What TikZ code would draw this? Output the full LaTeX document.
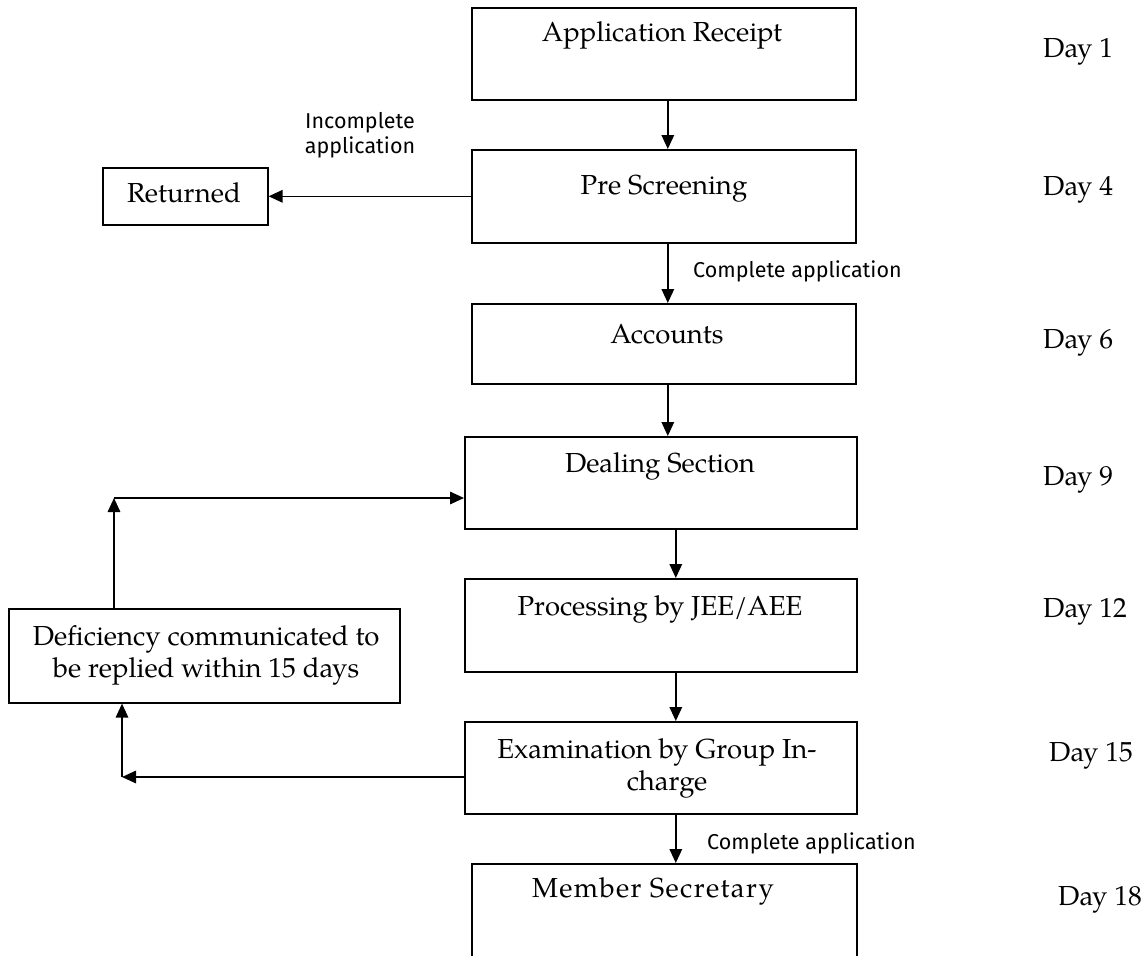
\documentclass[tikz,border=0pt]{standalone}
\usepackage{fontspec}
\setmainfont{TeX Gyre Pagella}
\newfontfamily\notefont{Fira Sans}
\newfontfamily\widefont[LetterSpace=5]{TeX Gyre Pagella}
\usetikzlibrary{arrows.meta}

\begin{document}
\begin{tikzpicture}[x=1pt,y=-1pt,
  box/.style={draw, line width=1.6pt, anchor=north west, inner sep=0pt},
  txt/.style={anchor=base, inner sep=0pt, font=\fontsize{27.5}{32}\selectfont},
  day/.style={anchor=base west, inner sep=0pt, font=\fontsize{27.5}{32}\selectfont},
  note/.style={inner sep=0pt, font=\notefont\fontsize{21.5}{27}\selectfont},
  flow/.style={line width=1.6pt, -{Triangle[length=14pt,width=12.5pt]}}
]
\useasboundingbox (0,0) rectangle (1147,955);
\clip (0,0) rectangle (1147,955);

% process boxes
\node[box, minimum width=384, minimum height=92] (ar)   at (471,7)   {};
\node[box, minimum width=384, minimum height=93] (ps)   at (471,149) {};
\node[box, minimum width=165, minimum height=57] (ret)  at (102,167) {};
\node[box, minimum width=384, minimum height=80] (acc)  at (471,303) {};
\node[box, minimum width=392, minimum height=92] (deal) at (464,436) {};
\node[box, minimum width=392, minimum height=93] (proc) at (464,578) {};
\node[box, minimum width=392, minimum height=92] (exam) at (464,721) {};
\node[box, minimum width=385, minimum height=160] (mem) at (471,863) {};
\node[box, minimum width=391, minimum height=94] (def)  at (8,608)   {};

% box texts
\node[txt] (tar)   at (662,42)  {Application Receipt};
\node[txt] (tps)   at (664,194) {Pre Screening};
\node[txt] (tret)  at (184,202) {Returned};
\node[txt] (tacc)  at (667,343) {Accounts};
\node[txt] (tdeal) at (660,472) {Dealing Section};
\node[txt] (tproc) at (660,615) {Processing by JEE/AEE};
\node[txt] (tex1)  at (657,758) {Examination by Group In-};
\node[txt] (tex2)  at (667,790) {charge};
\node[txt] (tmem)  at (653,897) {\widefont Member Secretary};
\node[txt] (tdef1) at (206,645) {Deficiency communicated to};
\node[txt] (tdef2) at (206,677) {be replied within 15 days};

% day column
\node[day] (d1)  at (1043,58)  {Day 1};
\node[day] (d4)  at (1043,195) {Day 4};
\node[day] (d6)  at (1043,348) {Day 6};
\node[day] (d9)  at (1043,485) {Day 9};
\node[day] (d12) at (1043,617) {Day 12};
\node[day] (d15) at (1049,761) {Day 15};
\node[day] (d18) at (1058,905) {Day 18};

% branch labels
\node[note, align=center] (ninc) at (360,135) {Incomplete\\[-2pt]application};
\node[note, anchor=base west] (nc1) at (693,277) {Complete application};
\node[note, anchor=base west] (nc2) at (707,849) {Complete application};

% main flow
\draw[flow] ([xshift=4pt]ar.south)      -- ([xshift=4pt]ps.north);
\draw[flow] (ps.west)                   -- (ret.east);
\draw[flow] ([xshift=4pt]ps.south)      -- ([xshift=4pt]acc.north);
\draw[flow] ([xshift=4pt]acc.south)     -- ([xshift=7pt]deal.north);
\draw[flow] ([xshift=15pt]deal.south)   -- ([xshift=15pt]proc.north);
\draw[flow] ([xshift=15pt]proc.south)   -- ([xshift=15pt]exam.north);
\draw[flow] ([xshift=15pt]exam.south)   -- ([xshift=11.5pt]mem.north);

% deficiency loop
\coordinate (up) at (114,498);
\coordinate (dn) at (122,777);
\draw[flow] (def.north -| up) -- (up);
\draw[flow] (up) -- (up -| deal.west);
\draw[flow] (dn -| exam.west) -- (dn);
\draw[flow] (dn) -- (dn |- def.south);
\end{tikzpicture}
\end{document}
